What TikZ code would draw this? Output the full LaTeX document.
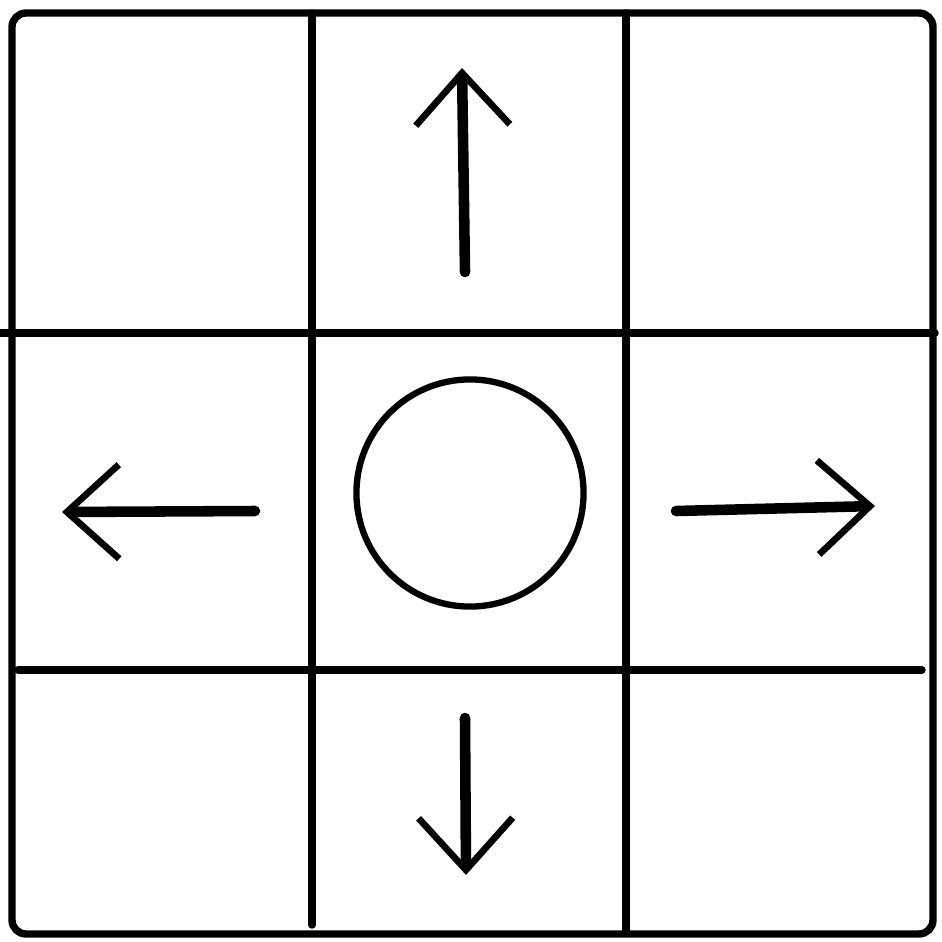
\documentclass[tikz,border=0pt]{standalone}
\usetikzlibrary{arrows.meta}
\begin{document}
\begin{tikzpicture}[x=0.01cm, y=-0.01cm]
    \tikzset{ln/.style={line width=2.1pt, line cap=round},
      arr/.style={line width=3pt, line cap=round,
        -{Straight Barb[length=0.52cm, width=0.94cm, line width=1.9pt]}}}
    \useasboundingbox (0,0) rectangle (942,942);
    % outer frame and grid lines
    \draw[ln, rounded corners=4pt] (12,13) rectangle (933,934);
    \draw[ln] (0,333) -- (935,333);
    \draw[ln] (18,670) -- (922,670);
    \draw[ln] (312,13) -- (312,925);
    \draw[ln] (626,13) -- (626,932);
    % centre cell
    \node[draw, circle, line width=1.8pt, minimum size=2.27cm, inner sep=0pt] (ctr) at (470,493) {};
    % arrows
    \coordinate (u0) at (465,272); \coordinate (u1) at (462,68);
    \coordinate (l0) at (255,511); \coordinate (l1) at (62,512);
    \coordinate (r0) at (676,511); \coordinate (r1) at (875,506);
    \coordinate (d0) at (465,718); \coordinate (d1) at (466,875);
    \foreach \a in {u,l,r,d} {
      \draw[arr] (\a0) -- (\a1);
    }
  \end{tikzpicture}
\end{document}
